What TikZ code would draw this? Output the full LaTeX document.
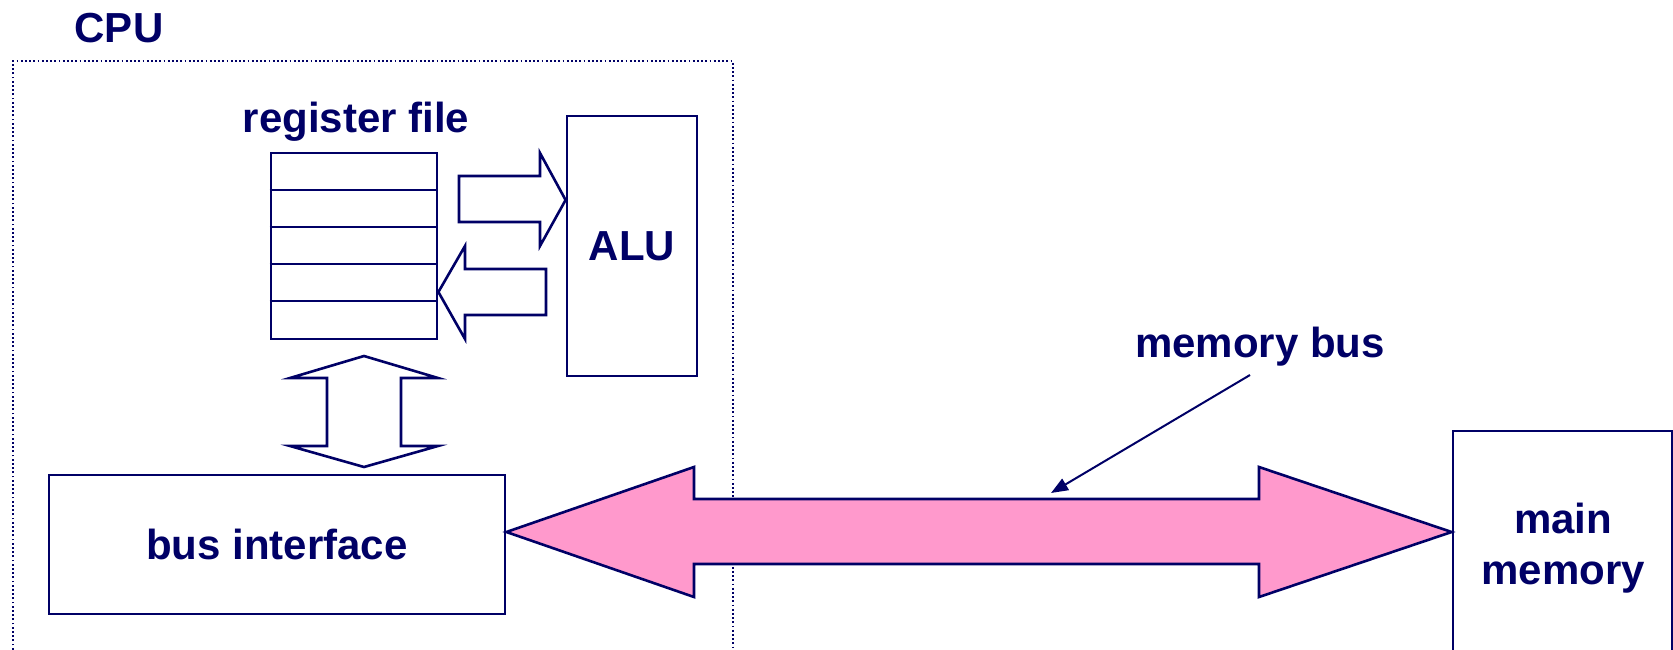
\documentclass[tikz,border=0pt]{standalone}
\usepackage{fontspec}
\setmainfont{Liberation Sans}
\usetikzlibrary{arrows.meta}
\definecolor{ink}{RGB}{0,0,102}
\definecolor{buspink}{RGB}{255,153,204}
\tikzset{
  lbl/.style={font=\fontsize{42}{51}\selectfont\bfseries, text=ink, inner sep=0pt, align=center},
  box/.style={draw=ink, line width=2.8pt, fill=white, inner sep=0pt},
  blockarrow/.style={draw=ink, line width=2.6pt, fill=white, line join=miter},
  busarrow/.style={draw=ink, line width=2.6pt, fill=buspink, line join=miter},
  cpubox/.style={draw=ink, line width=1.8pt, dash pattern=on 1.8pt off 2.4pt},
  leader/.style={draw=ink, line width=2pt, -{Triangle[length=17pt,width=13pt]}}
}
\begin{document}
\begin{tikzpicture}[x=1pt,y=-1pt]
\useasboundingbox (0,0) rectangle (1673,650);
\clip (0,0) rectangle (1673,650);
% CPU region
\draw[cpubox] (13,700) -- (13,61) -- (733,61) -- (733,700);
\node[lbl, anchor=base] (cpu) at (119,43) {CPU};
% register file
\node[lbl, anchor=base] (rflabel) at (356,132) {register file};
\node[box, minimum width=166pt, minimum height=186pt] (regs) at (354,246) {};
\foreach \yy in {190,227,264,301}
  \draw[ink, line width=2.8pt] (regs.west |- 0,\yy) -- (regs.east |- 0,\yy);
% ALU
\node[box, lbl, draw=ink, line width=2.8pt, minimum width=130pt, minimum height=260pt] (alu) at (632,246) {ALU};
% arrows between register file and ALU
\draw[blockarrow] (459,176) -- (540,176) -- (540,153) -- (alu.west |- 0,200) -- (540,246) -- (540,222) -- (459,222) -- cycle;
\draw[blockarrow] (regs.east |- 0,292) -- (465,246) -- (465,269) -- (546,269) -- (546,315) -- (465,315) -- (465,339) -- cycle;
% bus interface
\node[box, lbl, draw=ink, line width=2.8pt, minimum width=456pt, minimum height=139pt] (bi) at (277,544.5) {bus interface};
% vertical double arrow
\draw[blockarrow] (364,356) -- (438,378) -- (401,378) -- (401,446) -- (438,446) -- (364,467) -- (290,446) -- (327,446) -- (327,378) -- (290,378) -- cycle;
% main memory
\node[box, minimum width=219pt, minimum height=280pt] (mm) at (1562.5,571) {};
\node[lbl] (mmlabel) at (1563,548) {main\\memory};
% memory bus
\draw[busarrow] (bi.east |- 0,532) -- (694,467) -- (694,499) -- (1259,499) -- (1259,467) -- (mm.west |- 0,532) -- (1259,597) -- (1259,564) -- (694,564) -- (694,597) -- cycle;
\node[lbl, anchor=base] (mblabel) at (1260,357) {memory bus};
\coordinate (lstart) at (1250,375);
\coordinate (lend) at (1051,493);
\draw[leader] (lstart) -- (lend);
\end{tikzpicture}
\end{document}
